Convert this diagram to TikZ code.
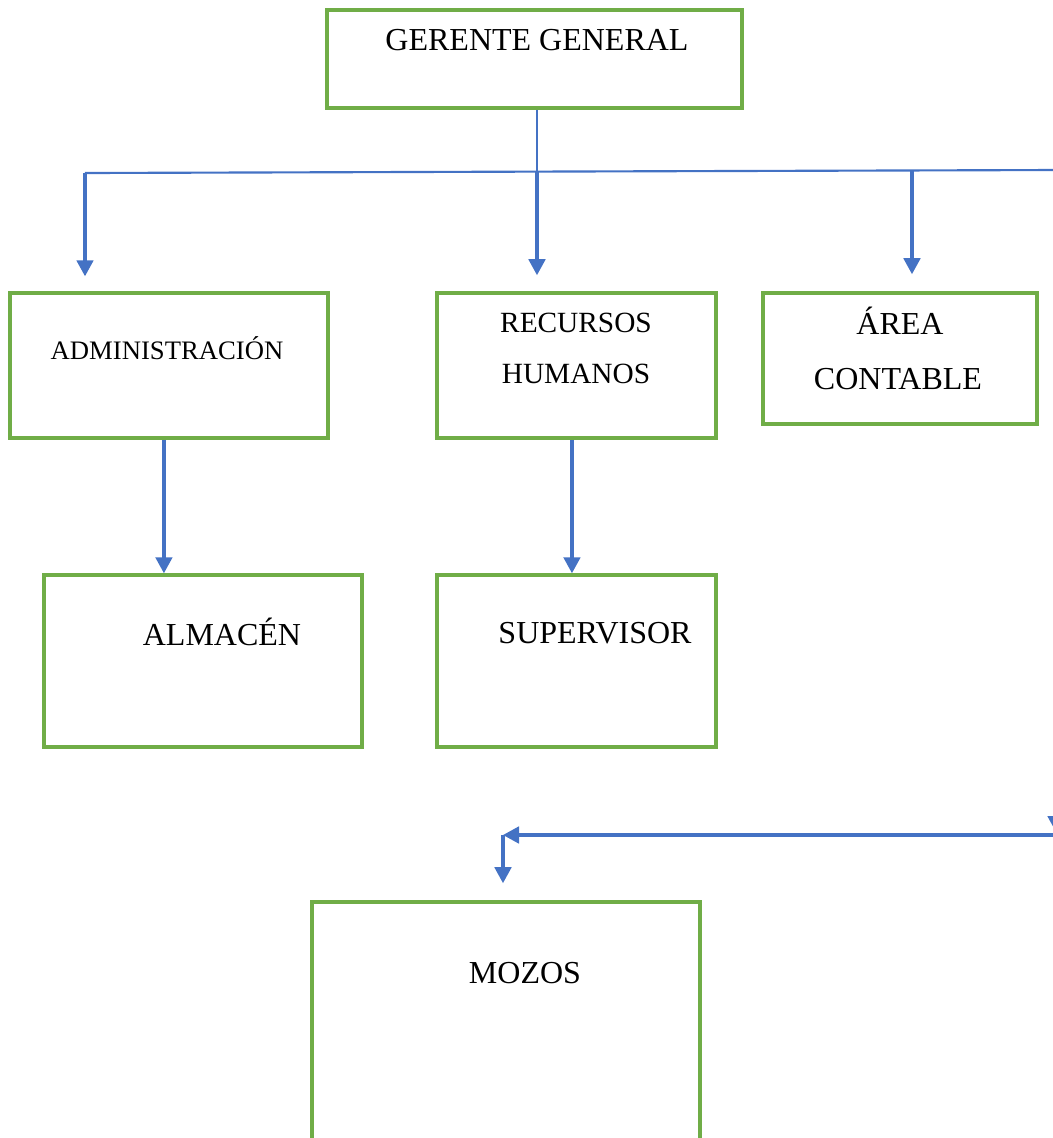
\documentclass[tikz,border=0pt]{standalone}
\usepackage{fontspec}
\setmainfont{Liberation Serif}
\usetikzlibrary{arrows.meta}
\definecolor{verde}{HTML}{70AD47}
\definecolor{azul}{HTML}{4472C4}
\begin{document}
\begin{tikzpicture}[x=0.375pt,y=-0.375pt,
box/.style={draw=verde,line width=1.3pt,inner sep=0pt},
txt/.style={anchor=base,inner sep=0pt},
bus/.style={draw=azul,line width=0.8pt},
arr/.style={draw=azul,line width=1.2pt,-{Triangle[width=6.2pt,length=6pt]}}]
\useasboundingbox (0,0) rectangle (1053,1138);
\clip (0,0) rectangle (1053,1138);
\node[box,minimum width=155.6pt,minimum height=36.75pt] (node) at (534.5,59) {};
\node[box,minimum width=119.25pt,minimum height=54.4pt] (node0) at (169,365.5) {};
\node[box,minimum width=104.6pt,minimum height=54.4pt] (node1) at (576.5,365.5) {};
\node[box,minimum width=102.75pt,minimum height=49.1pt] (node2) at (900,358.5) {};
\node[box,minimum width=119.25pt,minimum height=64.5pt] (node00) at (203,661) {};
\node[box,minimum width=104.6pt,minimum height=64.5pt] (node10) at (576.5,661) {};
\node[box,minimum width=145.5pt,minimum height=93pt] (node3) at (506,1026) {};
\node[txt,font=\fontsize{12}{14}\selectfont] (node-t) at (537,50) {GERENTE GENERAL};
\node[txt,font=\fontsize{10}{12}\selectfont] (node0-t) at (167,359) {ADMINISTRACIÓN};
\node[txt,font=\fontsize{11}{13}\selectfont] (node1-a) at (576,332) {RECURSOS};
\node[txt,font=\fontsize{11}{13}\selectfont] (node1-b) at (576,383) {HUMANOS};
\node[txt,font=\fontsize{12}{14}\selectfont] (node2-a) at (900,334) {ÁREA};
\node[txt,font=\fontsize{12}{14}\selectfont] (node2-b) at (898,389) {CONTABLE};
\node[txt,font=\fontsize{12}{14}\selectfont] (node00-t) at (222,645) {ALMACÉN};
\node[txt,font=\fontsize{12}{14}\selectfont] (node10-t) at (595,643) {SUPERVISOR};
\node[txt,font=\fontsize{12}{14}\selectfont] (node3-t) at (525,983) {MOZOS};
\coordinate (bl) at (85,173);
\coordinate (bc) at (537,172);
\coordinate (bd) at (912,171);
\coordinate (br) at (1056,170);
\coordinate (rd) at (1056,832);
\coordinate (rb) at (1056,835);
\coordinate (m) at (503,835);
\draw[azul,line width=0.4pt] (node.south -| bc) -- (bc);
\draw[bus] (bl) -- (br);
\draw[arr,shorten >=5.6pt] (bl) -- (bl |- node0.north);
\draw[arr,shorten >=6pt] (bc) -- (bc |- node1.north);
\draw[arr,shorten >=6.4pt] (bd) -- (bd |- node2.north);
\draw[arr] ([xshift=-1.9pt]node0.south) coordinate (a0) -- (a0 |- node00.north);
\draw[arr] ([xshift=-1.7pt]node1.south) coordinate (a1) -- (a1 |- node10.north);
\draw[arr] (br) -- (rd);
\draw[arr] (rb) -- (m);
\draw[arr,shorten >=6.4pt] (m) -- (m |- node3.north);
\end{tikzpicture}
\end{document}
